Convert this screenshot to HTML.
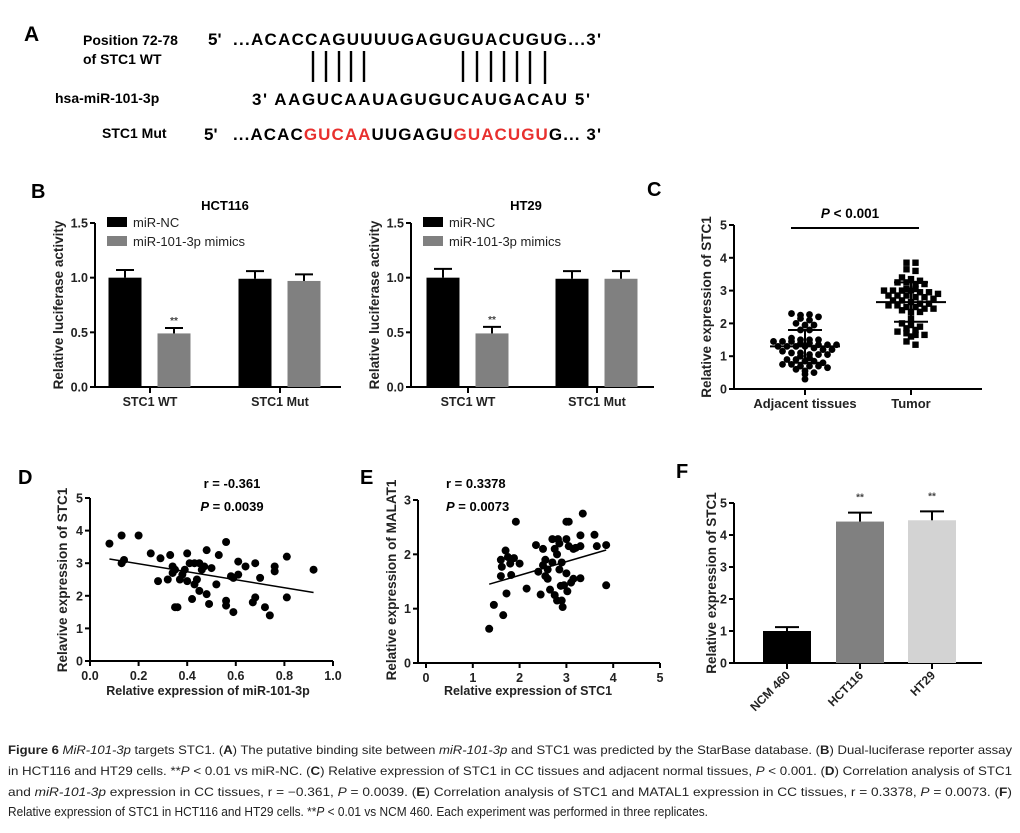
<!DOCTYPE html>
<html><head><meta charset="utf-8"><style>
html,body{margin:0;padding:0;background:#fff}
svg{display:block;font-family:"Liberation Sans",Arial,sans-serif}
.b{font-weight:bold}
</style></head><body>
<svg id="fig" width="1020" height="833" viewBox="0 0 1020 833" xmlns="http://www.w3.org/2000/svg">
<g class="b" font-size="17">
<text x="24" y="41" font-size="21">A</text>
<text x="83" y="45" font-size="14">Position 72-78</text>
<text x="83" y="64" font-size="14">of STC1 WT</text>
<text x="208" y="45">5'</text>
<text x="233" y="45" textLength="368">...ACACCAGUUUUGAGUGUACUGUG...3'</text>
<g stroke="#000" stroke-width="2.4">
<line x1="313" y1="51" x2="313" y2="82"/><line x1="326" y1="51" x2="326" y2="82"/><line x1="339" y1="51" x2="339" y2="82"/><line x1="351" y1="51" x2="351" y2="82"/><line x1="364" y1="51" x2="364" y2="82"/>
<line x1="463" y1="51" x2="463" y2="82"/><line x1="477" y1="51" x2="477" y2="82"/><line x1="491" y1="51" x2="491" y2="82"/><line x1="504" y1="51" x2="504" y2="82"/><line x1="517" y1="51" x2="517" y2="82"/><line x1="530" y1="51" x2="530" y2="84"/><line x1="545" y1="51" x2="545" y2="84"/>
</g>
<text x="55" y="103" font-size="14">hsa-miR-101-3p</text>
<text x="252" y="105" textLength="338">3'  AAGUCAAUAGUGUCAUGACAU 5'</text>
<text x="102" y="138" font-size="14">STC1  Mut</text>
<text x="204" y="140">5'</text>
<text x="233" y="140" textLength="368">...ACAC<tspan fill="#e8302e">GUCAA</tspan>UUGAGU<tspan fill="#e8302e">GUACUGU</tspan>G... 3'</text>
</g>
<text x="31" y="198" font-size="20" class="b">B</text>
<text x="647" y="196" font-size="20" class="b">C</text>
<text x="18" y="484" font-size="20" class="b">D</text>
<text x="360" y="484" font-size="20" class="b">E</text>
<text x="676" y="478" font-size="20" class="b">F</text>
<g id="charts"></g>
<g font-size="11.6" fill="#222">
<text x="8" y="754" textLength="1004" lengthAdjust="spacingAndGlyphs"><tspan font-weight="bold">Figure 6</tspan> <tspan font-style="italic">MiR-101-3p</tspan> targets STC1. (<tspan font-weight="bold">A</tspan>) The putative binding site between <tspan font-style="italic">miR-101-3p</tspan> and STC1 was predicted by the StarBase database. (<tspan font-weight="bold">B</tspan>) Dual-luciferase reporter assay</text>
<text x="8" y="775" textLength="1004" lengthAdjust="spacingAndGlyphs">in HCT116 and HT29 cells. **<tspan font-style="italic">P</tspan> &lt; 0.01 vs miR-NC. (<tspan font-weight="bold">C</tspan>) Relative expression of STC1 in CC tissues and adjacent normal tissues, <tspan font-style="italic">P</tspan> &lt; 0.001. (<tspan font-weight="bold">D</tspan>) Correlation analysis of STC1</text>
<text x="8" y="796" textLength="1004" lengthAdjust="spacingAndGlyphs">and <tspan font-style="italic">miR-101-3p</tspan> expression in CC tissues, r = −0.361, <tspan font-style="italic">P</tspan> = 0.0039. (<tspan font-weight="bold">E</tspan>) Correlation analysis of STC1 and MATAL1 expression in CC tissues, r = 0.3378, <tspan font-style="italic">P</tspan> = 0.0073. (<tspan font-weight="bold">F</tspan>)</text>
<text x="8" y="816" textLength="700" lengthAdjust="spacingAndGlyphs" font-size="12.5">Relative expression of STC1 in HCT116 and HT29 cells. **<tspan font-style="italic">P</tspan> &lt; 0.01 vs NCM 460. Each experiment was performed in three replicates.</text>
</g>
</svg>
<script>
// ---- Panel B data ----
const bGroups = ["STC1 WT", "STC1 Mut"];
const bSeries = ["miR-NC", "miR-101-3p mimics"];
const bTicks = [0.0, 0.5, 1.0, 1.5];
const hctNC = [1.00, 0.99];
const hctMimic = [0.49, 0.97];
const hctNCerr = [0.07, 0.07];
const hctMimicErr = [0.05, 0.06];
const ht29NC = [1.00, 0.99];
const ht29Mimic = [0.49, 0.99];
const ht29NCerr = [0.08, 0.07];
const ht29MimicErr = [0.06, 0.07];
// ---- Panel C data ----
const cGroups = ["Adjacent tissues", "Tumor"];
const cTicks = [0, 1, 2, 3, 4, 5];
const adjacentVals = [2.3,2.25,2.27,2.2,2.15,2.1,2.0,1.95,1.95,1.8,1.8,1.55,1.5,1.5,1.5,1.45,1.45,1.45,1.4,1.4,1.35,1.35,1.35,1.3,1.3,1.3,1.3,1.25,1.2,1.2,1.15,1.1,1.1,1.05,1.05,1.05,1.0,0.95,0.9,0.9,0.85,0.85,0.8,0.75,0.75,0.7,0.7,0.7,0.65,0.6,0.55,0.5,0.45,0.3];
const tumorVals = [3.85,3.85,3.65,3.6,3.4,3.35,3.3,3.25,3.25,3.2,3.2,3.05,3.05,3.0,3.0,3.0,3.0,2.95,2.95,2.9,2.85,2.85,2.85,2.8,2.8,2.75,2.7,2.7,2.65,2.6,2.6,2.55,2.55,2.5,2.5,2.45,2.45,2.4,2.35,2.35,2.15,2.0,1.95,1.9,1.85,1.8,1.75,1.7,1.65,1.65,1.6,1.45,1.35];
const cMeans = [1.3, 2.65];
const cSD = [0.5, 0.6];
// ---- Panel D data ----
const dTicksX = [0.0, 0.2, 0.4, 0.6, 0.8, 1.0];
const dTicksY = [0, 1, 2, 3, 4, 5];
const dX = [0.08,0.13,0.13,0.14,0.2,0.25,0.28,0.29,0.32,0.33,0.34,0.34,0.35,0.35,0.36,0.37,0.38,0.39,0.40,0.40,0.41,0.42,0.43,0.43,0.44,0.45,0.45,0.46,0.47,0.48,0.48,0.49,0.50,0.52,0.53,0.56,0.56,0.56,0.58,0.59,0.59,0.61,0.61,0.64,0.67,0.68,0.68,0.70,0.72,0.74,0.76,0.76,0.81,0.81,0.92];
const dY = [3.6,3.85,3.0,3.1,3.85,3.3,2.45,3.15,2.5,3.25,2.9,2.7,2.8,1.65,1.65,2.5,2.65,2.8,3.3,2.45,3.0,1.9,2.35,3.0,2.5,3.0,2.15,2.8,2.9,3.4,2.05,1.75,2.85,2.35,3.25,3.65,1.85,1.7,2.6,2.55,1.5,3.05,2.65,2.9,1.8,1.95,3.0,2.55,1.65,1.4,2.9,2.75,3.2,1.95,2.8];
const dFit = [[0.08, 3.13], [0.92, 2.1]];
// ---- Panel E data ----
const eTicksX = [0, 1, 2, 3, 4, 5];
const eTicksY = [0, 1, 2, 3];
const eX = [1.35,1.45,1.6,1.6,1.62,1.65,1.7,1.72,1.75,1.8,1.82,1.88,1.92,2.0,2.15,2.35,2.4,2.45,2.5,2.5,2.55,2.55,2.6,2.6,2.65,2.7,2.7,2.75,2.75,2.8,2.8,2.82,2.85,2.85,2.88,2.9,2.9,2.92,2.95,3.0,3.0,3.0,3.02,3.05,3.05,3.1,3.15,3.15,3.2,3.3,3.3,3.3,3.35,3.6,3.65,3.85,3.85];
const eY = [0.63,1.07,1.6,1.9,1.77,0.88,2.07,1.28,1.95,1.83,1.62,1.93,2.6,1.83,1.37,2.17,1.68,1.26,1.8,2.1,1.6,1.9,1.55,1.72,1.35,2.28,1.85,1.25,2.1,2.0,1.15,2.28,2.2,1.72,1.42,1.85,1.15,1.03,1.43,2.6,2.28,1.65,1.32,2.15,2.6,1.48,2.1,1.55,2.12,2.15,2.35,1.56,2.75,2.36,2.15,1.43,2.17];
const eFit = [[1.35, 1.45], [3.85, 2.08]];
// ---- Panel F data ----
const fCats = ["NCM 460", "HCT116", "HT29"];
const fVals = [1.0, 4.42, 4.46];
const fErr = [0.12, 0.28, 0.28];
const fTicks = [0, 1, 2, 3, 4, 5];
const fColors = ["#000", "#808080", "#d3d3d3"];

const NS = "http://www.w3.org/2000/svg";
const root = document.getElementById("charts");
function el(tag, attrs, parent, txt) {
  const e = document.createElementNS(NS, tag);
  for (const k in attrs) e.setAttribute(k, attrs[k]);
  if (txt !== undefined) e.textContent = txt;
  (parent || root).appendChild(e);
  return e;
}
function lin(d0, d1, r0, r1) { return v => r0 + (v - d0) * (r1 - r0) / (d1 - d0); }
function yAxis(g, x, y, ticks, fmt) {
  const top = y(ticks[ticks.length - 1]), bot = y(ticks[0]);
  el("line", {x1: x, y1: top, x2: x, y2: bot, stroke: "#000", "stroke-width": 2}, g);
  ticks.forEach(t => {
    el("line", {x1: x - 5, y1: y(t), x2: x, y2: y(t), stroke: "#000", "stroke-width": 2}, g);
    el("text", {x: x - 7, y: y(t) + 4.5, "text-anchor": "end", "font-size": 12.5, "font-weight": "bold", fill: "#222"}, g, fmt(t));
  });
}
function yTitle(g, cx, cy, txt, name) {
  const t = el("text", {x: cx, y: cy, transform: `rotate(-90 ${cx} ${cy})`, "text-anchor": "middle", "font-size": 13.5, "font-weight": "bold", fill: "#222"}, g, txt);
  
  
}

// ---------- Panel B ----------
function barPanel(name, axisX, axisEnd, title, titleX, groupCenters, nc, mi, ncE, miE, legX) {
  const g = el("g", {}, root);
  
  
  const y = lin(0, 1.5, 387, 223);
  yAxis(g, axisX, y, bTicks, t => t.toFixed(1));
  el("line", {x1: axisX, y1: 387, x2: axisEnd, y2: 387, stroke: "#000", "stroke-width": 2}, g);
  const tt = el("text", {x: titleX, y: 210, "text-anchor": "middle", "font-size": 13, "font-weight": "bold"}, g, title);
  
  
  yTitle(g, axisX - 32, 305, "Relative luciferase activity", 'y-axis-title');
  const bw = 33;
  groupCenters.forEach((c, i) => {
    [[nc, ncE, "#000", -25], [mi, miE, "#808080", 24]].forEach(([vals, errs, col, off], s) => {
      const cx = c + off;
      const r = el("rect", {x: cx - bw / 2, y: y(vals[i]), width: bw, height: 387 - y(vals[i]), fill: col}, g);
      
      
      const top = y(vals[i] + errs[i]);
      el("line", {x1: cx, y1: y(vals[i]), x2: cx, y2: top, stroke: "#000", "stroke-width": 2}, g);
      el("line", {x1: cx - 9, y1: top, x2: cx + 9, y2: top, stroke: "#000", "stroke-width": 2}, g);
      if (s === 1 && i === 0) el("text", {x: cx, y: top - 4, "text-anchor": "middle", "font-size": 10, "font-weight": "bold", fill: "#444"}, g, "**");
    });
    el("line", {x1: c, y1: 387, x2: c, y2: 393, stroke: "#000", "stroke-width": 2}, g);
    const lb = el("text", {x: c, y: 406, "text-anchor": "middle", "font-size": 12.5, "font-weight": "bold", fill: "#222"}, g, bGroups[i]);
    
    
  });
  [["#000", 222], ["#808080", 241]].forEach(([col, ly], s) => {
    const le = el("g", {}, g);
    
    
    el("rect", {x: legX, y: ly - 5, width: 20, height: 10, fill: col}, le);
    el("text", {x: legX + 26, y: ly + 5, "font-size": 13, fill: "#222"}, le, bSeries[s]);
  });
}
barPanel("chart-hct116", 95, 341, "HCT116", 225, [150, 280], hctNC, hctMimic, hctNCerr, hctMimicErr, 107);
barPanel("chart-ht29", 411, 654, "HT29", 526, [468, 597], ht29NC, ht29Mimic, ht29NCerr, ht29MimicErr, 423);

// ---------- Panel C ----------
(function () {
  const g = el("g", {}, root);
  
  
  const y = lin(0, 5, 389, 225);
  const ax = 734, centers = [805, 911];
  yAxis(g, ax, y, cTicks, t => String(t));
  el("line", {x1: ax, y1: 389, x2: 982, y2: 389, stroke: "#000", "stroke-width": 2}, g);
  yTitle(g, 711, 307, "Relative expression of STC1", 'y-axis-title');
  const pt = el("text", {x: 850, y: 218, "text-anchor": "middle", "font-size": 13.5, "font-weight": "bold"}, g);
  
  
  el("tspan", {"font-style": "italic"}, pt, "P");
  el("tspan", {}, pt, " < 0.001");
  el("line", {x1: 791, y1: 228, x2: 919, y2: 228, stroke: "#000", "stroke-width": 2}, g);
  [adjacentVals, tumorVals].forEach((vals, gi) => {
    const c = centers[gi];
    const bins = {};
    vals.forEach(v => { const k = Math.round(v / 0.14); (bins[k] = bins[k] || []).push(v); });
    Object.keys(bins).forEach(k => {
      const arr = bins[k], n = arr.length;
      const sp = n > 1 ? Math.min(9, 68 / (n - 1)) : 0;
      arr.forEach((v, j) => {
        const cx = c + (j - (n - 1) / 2) * sp;
        let m;
        if (gi === 0) m = el("circle", {cx: cx, cy: y(v), r: 3.4, fill: "#000"}, g);
        else m = el("rect", {x: cx - 3.2, y: y(v) - 3.2, width: 6.4, height: 6.4, fill: "#000"}, g);
        
        
      });
    });
    const ym = y(cMeans[gi]), y1 = y(cMeans[gi] + cSD[gi]), y2 = y(cMeans[gi] - cSD[gi]);
    el("line", {x1: c - 35, y1: ym, x2: c + 35, y2: ym, stroke: "#000", "stroke-width": 2}, g);
    el("line", {x1: c, y1: y1, x2: c, y2: y2, stroke: "#000", "stroke-width": 2}, g);
    el("line", {x1: c - 17, y1: y1, x2: c + 17, y2: y1, stroke: "#000", "stroke-width": 2}, g);
    el("line", {x1: c - 17, y1: y2, x2: c + 17, y2: y2, stroke: "#000", "stroke-width": 2}, g);
    el("line", {x1: c, y1: 389, x2: c, y2: 395, stroke: "#000", "stroke-width": 2}, g);
    const lb = el("text", {x: c, y: 408, "text-anchor": "middle", "font-size": 13, "font-weight": "bold", fill: "#222"}, g, cGroups[gi]);
    
    
  });
})();

// ---------- Scatter panels D & E ----------
function scatter(name, axX, xr, yr, ticksX, ticksY, fmtX, xs, ys, fit, xTitle, yTitleTxt, yTitleX, xTitleX, rTxt, pTxt, statX, statAnchor) {
  const g = el("g", {}, root);
  
  
  const x = lin(ticksX[0], ticksX[ticksX.length - 1], xr[0], xr[1]);
  const y = lin(ticksY[0], ticksY[ticksY.length - 1], yr[0], yr[1]);
  yAxis(g, axX, y, ticksY, t => String(t));
  el("line", {x1: axX, y1: yr[0], x2: xr[1], y2: yr[0], stroke: "#000", "stroke-width": 2}, g);
  ticksX.forEach(t => {
    el("line", {x1: x(t), y1: yr[0], x2: x(t), y2: yr[0] + 5, stroke: "#000", "stroke-width": 2}, g);
    el("text", {x: x(t), y: yr[0] + 19, "text-anchor": "middle", "font-size": 12.5, "font-weight": "bold", fill: "#222"}, g, fmtX(t));
  });
  xs.forEach((v, i) => {
    const p = el("circle", {cx: x(v), cy: y(ys[i]), r: 4, fill: "#000"}, g);
    
    
  });
  const fl = el("line", {x1: x(fit[0][0]), y1: y(fit[0][1]), x2: x(fit[1][0]), y2: y(fit[1][1]), stroke: "#000", "stroke-width": 1.5}, g);
  
  
  const xt = el("text", {x: xTitleX, y: 695, "text-anchor": "middle", "font-size": 12.5, "font-weight": "bold", fill: "#222"}, g, xTitle);
  
  
  yTitle(g, yTitleX, 580, yTitleTxt, 'y-axis-title');
  const r = el("text", {x: statX, y: 488, "text-anchor": statAnchor, "font-size": 13, "font-weight": "bold"}, g, rTxt);
  
  
  const p = el("text", {x: statX, y: 511, "text-anchor": statAnchor, "font-size": 13, "font-weight": "bold"}, g);
  
  
  el("tspan", {"font-style": "italic"}, p, "P");
  el("tspan", {}, p, pTxt);
}
scatter("chart-d-scatter", 90, [90, 333], [661, 498], dTicksX, dTicksY, t => t.toFixed(1), dX, dY, dFit,
  "Relative expression of miR-101-3p", "Relavive expression of STC1", 67, 208, "r = -0.361", " = 0.0039", 232, "middle");
scatter("chart-e-scatter", 418, [426, 660], [663, 500], eTicksX, eTicksY, t => String(t), eX, eY, eFit,
  "Relative expression of STC1", "Relative expression of MALAT1", 396, 528, "r = 0.3378", " = 0.0073", 446, "start");

// ---------- Panel F ----------
(function () {
  const g = el("g", {}, root);
  
  
  const y = lin(0, 5, 663, 503);
  const ax = 734, centers = [787, 860, 932], bw = 48;
  yAxis(g, ax, y, fTicks, t => String(t));
  el("line", {x1: ax, y1: 663, x2: 982, y2: 663, stroke: "#000", "stroke-width": 2}, g);
  yTitle(g, 716, 583, "Relative expression of STC1", 'y-axis-title');
  fCats.forEach((c, i) => {
    const cx = centers[i];
    const r = el("rect", {x: cx - bw / 2, y: y(fVals[i]), width: bw, height: 663 - y(fVals[i]), fill: fColors[i]}, g);
    
    
    const top = y(fVals[i] + fErr[i]);
    el("line", {x1: cx, y1: y(fVals[i]), x2: cx, y2: top, stroke: "#000", "stroke-width": 2}, g);
    el("line", {x1: cx - 12, y1: top, x2: cx + 12, y2: top, stroke: "#000", "stroke-width": 2}, g);
    if (i > 0) el("text", {x: cx, y: top - 12, "text-anchor": "middle", "font-size": 10, "font-weight": "bold", fill: "#444"}, g, "**");
    el("line", {x1: cx, y1: 663, x2: cx, y2: 669, stroke: "#000", "stroke-width": 2}, g);
    const lb = el("text", {x: cx + 4, y: 676, transform: `rotate(-45 ${cx + 4} 676)`, "text-anchor": "end", "font-size": 12, "font-weight": "bold", fill: "#222"}, g, c);
    
    
  });
})();
</script>
</body></html>
